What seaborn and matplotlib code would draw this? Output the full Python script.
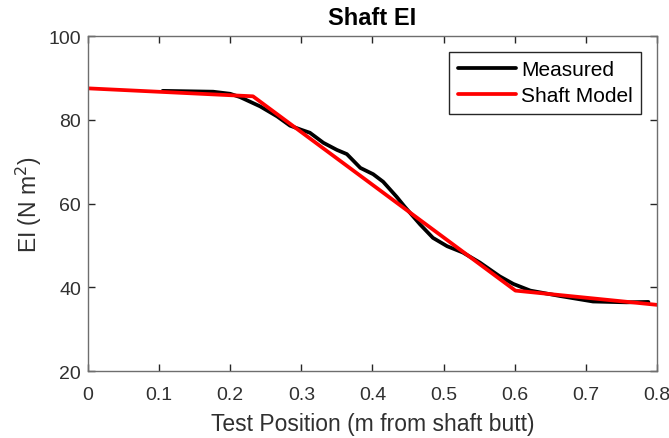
import matplotlib
matplotlib.use("Agg")
import matplotlib.pyplot as plt
import seaborn as sns
import pandas as pd

measured_x = [0.105, 0.176, 0.200, 0.214, 0.242, 0.266, 0.284, 0.300, 0.312, 0.331,
              0.350, 0.364, 0.383, 0.401, 0.415, 0.434, 0.445, 0.467, 0.485, 0.505,
              0.527, 0.551, 0.579, 0.598, 0.622, 0.664, 0.710, 0.757, 0.788]
measured_y = [86.9, 86.7, 86.2, 85.4, 83.2, 80.8, 78.6, 77.6, 76.9, 74.5,
              72.8, 71.8, 68.5, 67.0, 65.2, 61.6, 59.3, 55.0, 51.8, 49.8,
              48.3, 45.9, 42.6, 40.8, 39.2, 37.9, 36.6, 36.4, 36.5]

model_x = [0.0, 0.232, 0.601, 0.800]
model_y = [87.5, 85.6, 39.2, 35.8]

sns.set_theme(style="ticks")
plt.rcParams['font.family'] = ['Liberation Sans', 'DejaVu Sans']

df = pd.concat([
    pd.DataFrame({"x": measured_x, "y": measured_y, "series": "Measured"}),
    pd.DataFrame({"x": model_x, "y": model_y, "series": "Shaft Model"}),
])

fig = plt.figure(figsize=(6.69, 4.39), dpi=100)
ax = fig.add_axes([0.1315, 0.1526, 0.8505, 0.7631])
sns.lineplot(data=df, x="x", y="y", hue="series",
             palette={"Measured": "black", "Shaft Model": "#ff0000"},
             linewidth=2.7, ax=ax, sort=False, estimator=None)

ax.set_xlim(0, 0.8)
ax.set_ylim(20, 100)
ax.set_xticks([0, 0.1, 0.2, 0.3, 0.4, 0.5, 0.6, 0.7, 0.8])
ax.set_xticklabels(["0", "0.1", "0.2", "0.3", "0.4", "0.5", "0.6", "0.7", "0.8"])
ax.set_yticks([20, 40, 60, 80, 100])
axc = "#6e6e6e"
txtc = "#303030"
for s in ax.spines.values():
    s.set_visible(True)
    s.set_color(axc)
    s.set_linewidth(1.0)
ax.tick_params(direction="in", length=5, width=1.0, color="#262626", labelcolor=txtc,
               labelsize=14, top=True, right=True, labeltop=False, labelright=False, pad=5)
ax.tick_params(axis="x", pad=11)
ax.set_xlabel("Test Position (m from shaft butt)", fontsize=16.5, color=txtc, labelpad=6)
ax.set_ylabel("EI (N m$^2$)", fontsize=16.5, color=txtc, labelpad=3)
ax.set_title("Shaft EI", fontsize=17, fontweight="bold", pad=9, color="black")

leg = ax.legend(loc="upper right", fontsize=15, frameon=True, fancybox=False, handlelength=2.8,
                borderaxespad=0.75, edgecolor="#262626", handletextpad=0.25, labelspacing=0.35,
                borderpad=0.4, framealpha=1)
leg.get_frame().set_linewidth(1.0)
for t in leg.get_texts():
    t.set_color("black")

fig.savefig("out.png", dpi=100)
